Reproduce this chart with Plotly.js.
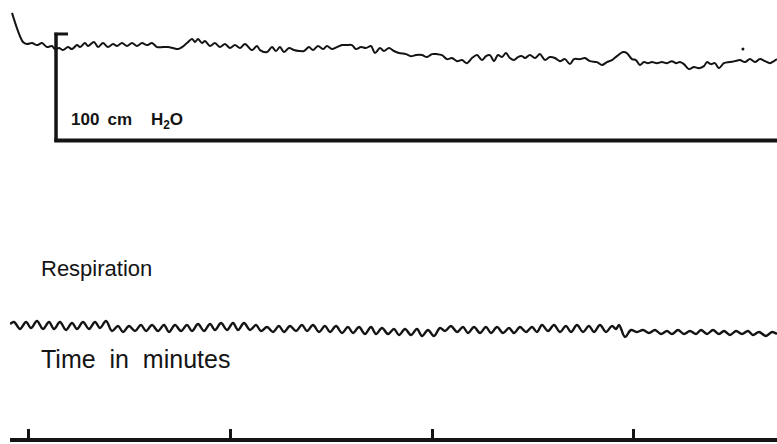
<!DOCTYPE html>
<html>
<head>
<meta charset="utf-8">
<script src="https://cdn.plot.ly/plotly-3.0.1.min.js"></script>
<style>html,body{margin:0;padding:0;background:#fff;}#chart{width:777px;height:444px;}</style>
</head>
<body>
<div id="chart"></div>
<script>
// Time in seconds (first minute mark = 0 s)
const timeTicks = [0, 60, 120, 180];

// Pressure trace (cm H2O) — turning points
const pressureT = [-4.75,-1.49,-0.30,1.19,2.67,4.16,5.64,7.13,8.02,9.21,10.40,11.88,13.07,14.55,15.44,16.93,17.82,19.60,20.79,22.28,23.76,25.25,26.43,27.92,29.40,30.89,32.37,33.86,35.34,36.83,38.31,40.10,41.58,43.07,44.55,45.74,47.22,48.71,49.60,50.49,51.68,52.57,54.05,55.54,57.02,58.51,59.99,61.48,62.96,64.45,66.53,68.01,68.91,70.99,72.47,73.66,74.84,76.03,77.52,79.00,80.49,81.97,83.46,84.65,86.13,87.62,88.80,90.29,91.77,93.26,94.74,96.23,97.42,98.90,100.39,101.87,103.06,104.55,105.73,107.22,108.70,110.19,112.27,113.75,115.24,117.02,118.51,119.99,121.48,122.96,124.45,125.93,127.42,128.90,130.39,131.87,133.36,134.84,136.03,137.22,138.40,139.59,140.78,141.97,143.15,144.34,145.53,146.72,147.61,149.09,150.58,152.06,153.55,155.03,156.52,158.00,159.49,160.97,162.16,163.94,165.43,166.91,168.99,170.48,171.96,173.45,174.93,176.72,177.90,179.39,180.58,181.76,182.95,184.14,185.33,186.81,188.30,189.78,191.27,192.46,193.64,194.83,196.32,197.80,199.29,200.77,201.66,202.85,204.04,205.23,206.71,208.49,209.98,211.46,212.95,214.44,215.92,217.41,218.90,220.38,221.57,222.46];
const pressureP = [119.8,92.5,90.6,91.5,89.6,91.5,87.7,88.7,85.8,86.8,84.9,87.7,85.8,89.6,87.7,91.5,88.7,92.5,87.7,91.5,87.7,90.6,88.7,91.5,88.7,91.5,88.7,91.5,89.6,91.5,87.7,87.7,87.7,86.8,85.8,87.7,91.5,95.3,92.5,95.3,91.5,93.4,88.7,91.5,87.7,90.6,86.8,89.6,86.8,90.6,84.9,88.7,84.9,83.0,87.7,84.0,87.7,83.0,86.8,84.9,84.0,84.0,87.7,84.9,88.7,85.8,88.7,85.8,87.7,89.6,89.6,89.6,85.8,87.7,86.8,88.7,82.1,86.8,84.0,86.8,84.0,82.1,81.1,79.2,80.2,80.2,78.3,81.1,81.1,80.2,76.4,77.4,74.5,75.5,72.6,77.4,80.2,75.5,79.2,80.2,74.5,80.2,78.3,82.1,77.4,75.5,78.3,79.2,77.4,80.2,77.4,81.1,75.5,78.3,77.4,74.5,76.4,71.7,76.4,76.4,77.4,74.5,73.6,70.8,73.6,75.5,79.2,83.0,82.1,76.4,75.5,70.8,73.6,72.6,73.6,72.6,73.6,72.6,74.5,72.6,73.6,71.7,67.0,68.9,67.9,69.8,73.6,71.7,72.6,67.9,72.6,73.6,74.5,75.5,73.6,76.4,73.6,76.4,74.5,72.6,74.5,76.4];
const penDotT = [212.36];
const penDotP = [85.8];

// Respiration trace (arbitrary units)
const respT = [-5.35,-4.16,-2.38,-0.59,0.89,2.67,4.46,6.24,7.72,9.50,11.29,13.07,14.55,16.34,18.12,19.90,21.39,23.17,24.95,26.73,28.22,30.00,31.78,33.56,35.05,36.83,38.61,40.40,41.88,43.66,45.45,47.23,48.71,50.50,52.28,54.06,55.54,57.33,59.11,60.89,62.38,64.16,65.94,67.72,69.21,70.99,72.77,74.55,76.04,77.82,79.60,81.39,82.87,84.65,86.44,88.22,89.70,91.49,93.27,95.05,96.53,98.32,100.10,101.88,103.37,105.15,106.93,108.71,110.20,111.98,113.76,115.54,117.03,118.81,120.59,122.38,123.86,125.64,127.43,129.21,130.69,132.48,134.26,136.04,137.53,139.31,141.09,142.87,144.36,146.14,147.92,149.70,151.19,152.67,154.46,156.24,158.02,159.80,161.29,163.07,164.85,166.63,168.12,169.90,171.68,173.47,174.66,175.55,177.33,179.11,180.89,182.67,184.46,186.24,188.02,189.80,191.29,193.07,194.85,196.63,198.42,199.90,201.68,203.47,205.25,206.73,208.51,210.30,212.08,213.86,215.35,217.13,219.21,221.00,222.48];
const respV = [6,8,1,8,2,9,1,8,1,8,0,7,1,8,1,8,2,9,-1,4,-2,4,-1,5,-1,5,-1,5,-2,5,-1,5,-1,6,-1,6,0,7,0,7,0,7,0,5,-1,3,-2,4,-2,4,-1,5,-1,5,-2,4,-2,4,-3,3,-3,3,-4,3,-4,2,-4,1,-5,1,-5,1,-6,0,-6,2,-1,4,-2,3,-3,3,-3,3,-3,3,-3,2,-3,3,-2,3,-2,5,-1,5,-2,4,-2,5,-2,4,-2,5,-2,4,1,5,-7,0,-2,0,-3,0,-4,-1,-4,0,-4,-1,-4,0,-4,0,-4,-1,-5,-1,-4,-1,-5,-2,-6,-2,-4];

// Calibration bracket: 100 cm H2O
const scaleLow = 0, scaleHigh = 100;
const bracketT = 8.32, bracketTopEnd = 11.88;

const W = 767, H = 438, L = 10;
const px = v => (v - L) / W;
const py = v => 1 - v / H;
const ink = '#141414';

const data = [
  {x: pressureT, y: pressureP, xaxis: 'x', yaxis: 'y', mode: 'lines',
   line: {color: ink, width: 2, shape: 'spline', smoothing: 0.9}, hoverinfo: 'skip'},
  {x: penDotT, y: penDotP, xaxis: 'x', yaxis: 'y', mode: 'markers',
   marker: {color: ink, size: 3}, hoverinfo: 'skip'},
  {x: respT, y: respV, xaxis: 'x', yaxis: 'y2', mode: 'lines',
   line: {color: ink, width: 2.4, shape: 'spline', smoothing: 1}, hoverinfo: 'skip'}
];

const layout = {
  width: 777, height: 444,
  margin: {l: L, r: 0, t: 0, b: 6, pad: 0},
  paper_bgcolor: '#fff', plot_bgcolor: '#fff',
  showlegend: false,
  xaxis: {range: [-5.35, 222.48], anchor: 'y2', showgrid: false, zeroline: false,
          showline: true, linecolor: ink, linewidth: 3.5,
          ticks: 'inside', ticklen: 9, tickwidth: 3, tickcolor: ink,
          tickvals: timeTicks, showticklabels: false, fixedrange: true},
  yaxis: {domain: [0.5, 1], range: [-73.7, 131.9], visible: false, fixedrange: true},
  yaxis2: {domain: [0, 0.5], range: [-108, 111], visible: false, fixedrange: true},
  shapes: [
    {type: 'line', xref: 'x', yref: 'y', x0: bracketT, x1: bracketT, y0: scaleLow - 1.5, y1: scaleHigh + 1.2,
     line: {color: ink, width: 3.5}},
    {type: 'line', xref: 'x', yref: 'y', x0: bracketT - 0.5, x1: bracketTopEnd, y0: scaleHigh, y1: scaleHigh,
     line: {color: ink, width: 3}},
    {type: 'line', xref: 'x', yref: 'y', x0: bracketT - 0.5, x1: 222.48, y0: scaleLow, y1: scaleLow,
     line: {color: ink, width: 4}}
  ],
  annotations: [
    {xref: 'paper', yref: 'paper', x: px(69), y: py(121), xanchor: 'left', yanchor: 'middle',
     text: '100 \u2009cm\u00A0\u00A0\u00A0 H<sub>2</sub>O', showarrow: false,
     font: {family: 'Liberation Sans, Arial, sans-serif', size: 17, color: ink, weight: 'bold'}},
    {xref: 'paper', yref: 'paper', x: px(39), y: py(268), xanchor: 'left', yanchor: 'middle',
     text: 'Respiration', showarrow: false,
     font: {family: 'Liberation Sans, Arial, sans-serif', size: 22, color: ink}},
    {xref: 'paper', yref: 'paper', x: px(39), y: py(359), xanchor: 'left', yanchor: 'middle',
     text: 'Time\u00A0 in\u00A0 minutes', showarrow: false,
     font: {family: 'Liberation Sans, Arial, sans-serif', size: 25, color: ink}}
  ]
};

Plotly.newPlot('chart', data, layout, {staticPlot: true, displayModeBar: false});
</script>
</body>
</html>
